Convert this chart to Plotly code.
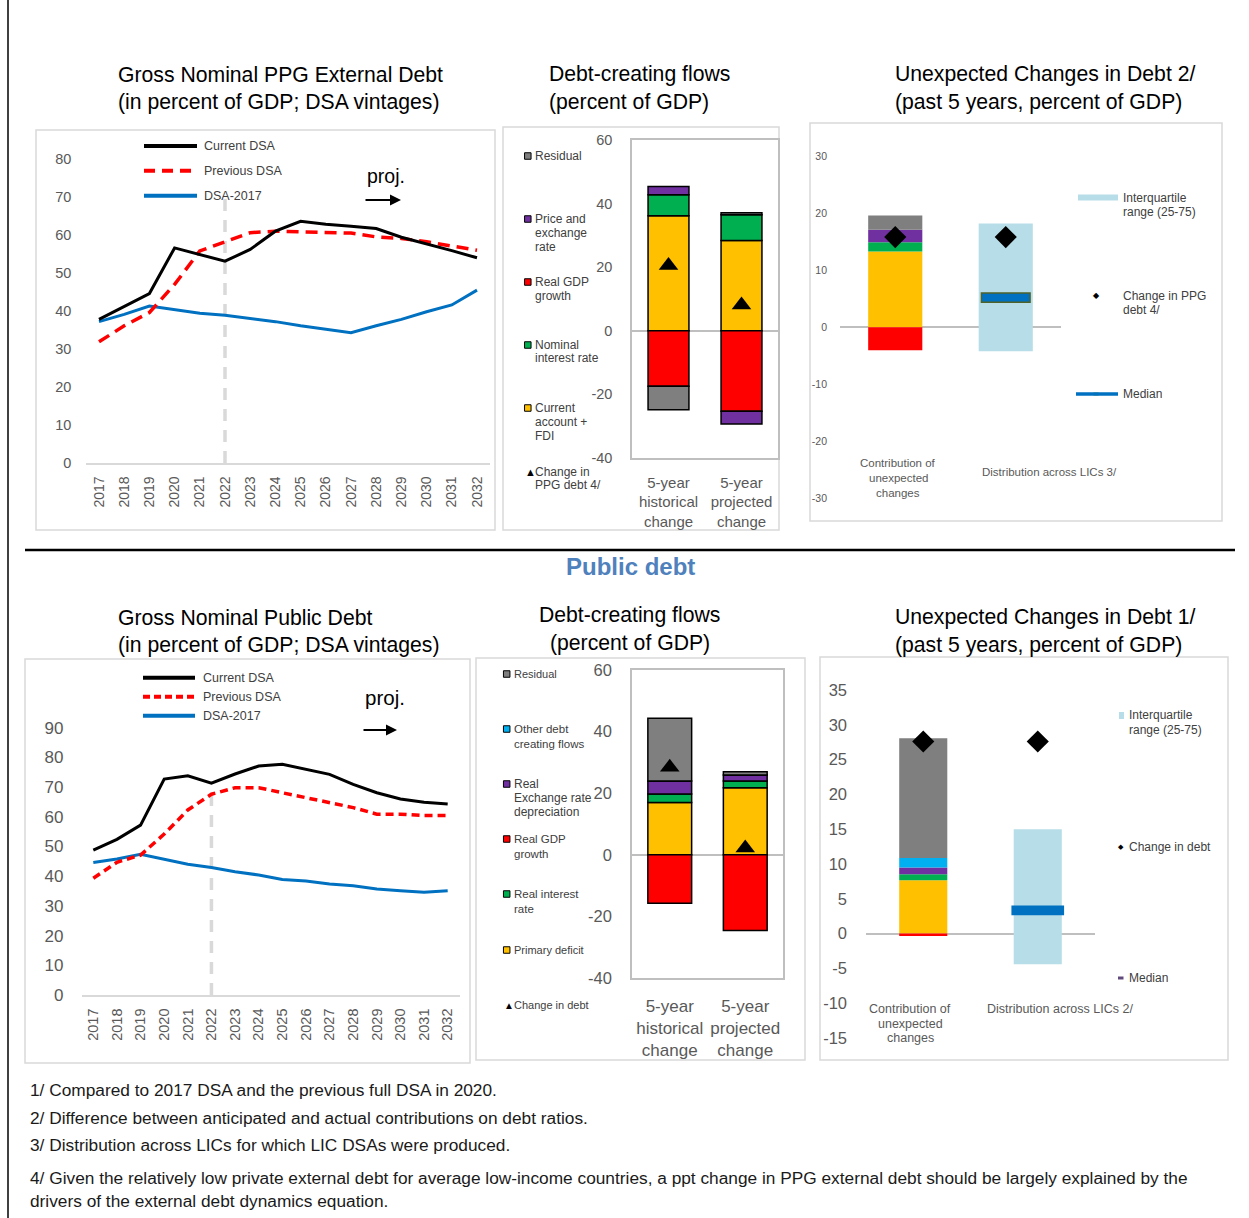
import plotly.graph_objects as go

W, H = 1249, 1218
FONT = "Liberation Sans, Arial, sans-serif"


def fx(px):
    return px / W


def fy(py):
    return 1 - py / H


# ---------------- data ----------------
years = list(range(2017, 2033))

# Gross nominal PPG external debt (% of GDP)
ext_current = [37.8, 41.3, 44.6, 56.6, 54.9, 53.1, 56.2, 61.0, 63.6, 62.8, 62.3, 61.7, 59.4, 57.7, 55.9, 54.0]
ext_previous = [31.9, 36.1, 39.6, 47.0, 55.8, 58.2, 60.6, 61.0, 60.8, 60.8, 60.5, 59.5, 59.1, 58.2, 57.1, 56.0]
ext_dsa2017 = [37.2, 39.1, 41.3, 40.4, 39.4, 38.9, 38.1, 37.2, 36.1, 35.2, 34.3, 36.1, 37.8, 39.8, 41.6, 45.5]

# Gross nominal public debt (% of GDP)
pub_current = [48.8, 52.4, 57.2, 72.7, 73.8, 71.3, 74.4, 77.1, 77.7, 76.1, 74.3, 70.9, 68.1, 66.0, 64.9, 64.3]
pub_previous = [39.3, 44.7, 47.1, 54.2, 62.3, 67.6, 69.8, 69.8, 68.1, 66.4, 64.8, 63.1, 60.9, 60.9, 60.4, 60.4]
pub_dsa2017 = [44.6, 45.8, 47.4, 45.7, 44.0, 42.9, 41.5, 40.4, 38.9, 38.4, 37.4, 36.8, 35.7, 35.1, 34.6, 35.1]

flow_labels = ["5-year<br>historical<br>change", "5-year<br>projected<br>change"]
flow_ticks = [-40, -20, 0, 20, 40, 60]
ext_unexp_ticks = [-30, -20, -10, 0, 10, 20, 30]
pub_unexp_ticks = [-15, -10, -5, 0, 5, 10, 15, 20, 25, 30, 35]

# external debt-creating flows (historical, projected)
ext_ca_fdi = [36.2, 28.4]
ext_nom_int = [6.6, 8.1]
ext_real_gdp = [-17.4, -25.3]
ext_price_exch = [2.6, -4.0]
ext_residual = [-7.4, 0.6]
ext_change = [20.5, 8.1]

# public debt-creating flows (historical, projected)
pub_primary = [17.0, 21.8]
pub_real_int = [2.7, 2.2]
pub_real_gdp = [-15.7, -24.6]
pub_rer = [4.3, 1.9]
pub_other = [0.0, 0.0]
pub_residual = [20.3, 1.1]
pub_change = [28.4, 2.2]

# unexpected changes, external debt
ext_unexp_ca = [13.3]
ext_unexp_int = [1.6]
ext_unexp_gdp = [-4.0]
ext_unexp_price = [2.2]
ext_unexp_resid = [2.5]
ext_unexp_change = [15.8, 15.8]
ext_iqr = [-4.2, 18.2]
ext_median = 5.2

# unexpected changes, public debt
pub_unexp_primary = [7.65]
pub_unexp_int = [0.86]
pub_unexp_gdp = [-0.33]
pub_unexp_rer = [1.0]
pub_unexp_other = [1.34]
pub_unexp_resid = [17.2]
pub_unexp_change = [27.6, 27.6]
pub_iqr = [-4.4, 15.0]
pub_median = 3.35

GREY = "#7F7F7F"
PURPLE = "#7030A0"
RED = "#FF0000"
GREEN = "#00B050"
YELLOW = "#FFC000"
CYAN = "#00B0F0"
IQR_BLUE = "#B7DEE8"
MED_BLUE = "#0070C0"
TICK = "#595959"
LEG = "#404040"

fig = go.Figure()


def ax(n):
    return ("x" if n == 1 else f"x{n}"), ("y" if n == 1 else f"y{n}")


# ---------------- line charts ----------------
for n, cur, prev, old, dash in [(1, ext_current, ext_previous, ext_dsa2017, "12px,7px"),
                                (4, pub_current, pub_previous, pub_dsa2017, "8px,5px")]:
    xa, ya = ax(n)
    fig.add_trace(go.Scatter(x=years, y=old, mode="lines", line=dict(color=MED_BLUE, width=3),
                             xaxis=xa, yaxis=ya))
    fig.add_trace(go.Scatter(x=years, y=prev, mode="lines", line=dict(color=RED, width=3.5, dash=dash),
                             xaxis=xa, yaxis=ya))
    fig.add_trace(go.Scatter(x=years, y=cur, mode="lines", line=dict(color="black", width=3),
                             xaxis=xa, yaxis=ya))

# ---------------- debt-creating flows ----------------
xa, ya = ax(2)
for vals, col in [(ext_ca_fdi, YELLOW), (ext_nom_int, GREEN), (ext_real_gdp, RED),
                  (ext_price_exch, PURPLE), (ext_residual, GREY)]:
    fig.add_trace(go.Bar(x=[0, 1], y=vals, width=0.56, marker=dict(color=col, line=dict(color="black", width=1.5)),
                         xaxis=xa, yaxis=ya))
fig.add_trace(go.Scatter(x=[0, 1], y=ext_change, mode="markers",
                         marker=dict(symbol="triangle-up", size=17, color="black"), xaxis=xa, yaxis=ya))

xa, ya = ax(5)
for vals, col in [(pub_primary, YELLOW), (pub_real_int, GREEN), (pub_real_gdp, RED),
                  (pub_rer, PURPLE), (pub_other, CYAN), (pub_residual, GREY)]:
    fig.add_trace(go.Bar(x=[0, 1], y=vals, width=0.58, marker=dict(color=col, line=dict(color="black", width=1.5)),
                         xaxis=xa, yaxis=ya))
fig.add_trace(go.Scatter(x=[0, 1], y=pub_change, mode="markers",
                         marker=dict(symbol="triangle-up", size=17, color="black"), xaxis=xa, yaxis=ya))

# ---------------- unexpected changes ----------------
xa, ya = ax(3)
for vals, col in [(ext_unexp_ca, YELLOW), (ext_unexp_int, GREEN), (ext_unexp_gdp, RED),
                  (ext_unexp_price, PURPLE), (ext_unexp_resid, GREY)]:
    fig.add_trace(go.Bar(x=[0], y=vals, width=0.49, marker=dict(color=col, line=dict(width=0)),
                         xaxis=xa, yaxis=ya))
fig.add_trace(go.Bar(x=[1], y=[ext_iqr[1] - ext_iqr[0]], base=[ext_iqr[0]], width=0.49,
                     marker=dict(color=IQR_BLUE, line=dict(width=0)), xaxis=xa, yaxis=ya))
fig.add_trace(go.Bar(x=[1], y=[1.6], base=[ext_median - 0.8], width=0.44,
                     marker=dict(color=MED_BLUE, line=dict(color="#4F6228", width=1.5)), xaxis=xa, yaxis=ya))
fig.add_trace(go.Scatter(x=[0, 1], y=ext_unexp_change, mode="markers",
                         marker=dict(symbol="diamond", size=17, color="black"), xaxis=xa, yaxis=ya))

xa, ya = ax(6)
for vals, col in [(pub_unexp_primary, YELLOW), (pub_unexp_int, GREEN), (pub_unexp_gdp, RED),
                  (pub_unexp_rer, PURPLE), (pub_unexp_other, CYAN), (pub_unexp_resid, GREY)]:
    fig.add_trace(go.Bar(x=[0], y=vals, width=0.42, marker=dict(color=col, line=dict(width=0)),
                         xaxis=xa, yaxis=ya))
fig.add_trace(go.Bar(x=[1], y=[pub_iqr[1] - pub_iqr[0]], base=[pub_iqr[0]], width=0.42,
                     marker=dict(color=IQR_BLUE, line=dict(width=0)), xaxis=xa, yaxis=ya))
fig.add_trace(go.Bar(x=[1], y=[1.4], base=[pub_median - 0.7], width=0.46,
                     marker=dict(color=MED_BLUE, line=dict(width=0)), xaxis=xa, yaxis=ya))
fig.add_trace(go.Scatter(x=[0, 1], y=pub_unexp_change, mode="markers",
                         marker=dict(symbol="diamond", size=17, color="black"), xaxis=xa, yaxis=ya))

# ---------------- axes ----------------
axes = {}


def set_axes(n, xdom, ydom, xaxis, yaxis):
    xk = "xaxis" if n == 1 else f"xaxis{n}"
    yk = "yaxis" if n == 1 else f"yaxis{n}"
    xa, ya = ax(n)
    base = dict(showgrid=False, zeroline=False, ticks="", tickfont=dict(family=FONT, color=TICK),
                fixedrange=True, automargin=False)
    axes[xk] = {**base, "domain": [fx(xdom[0]), fx(xdom[1])], "anchor": ya, **xaxis}
    axes[yk] = {**base, "domain": [fy(ydom[0]), fy(ydom[1])], "anchor": xa, **yaxis}


def plain(ticks):
    # hyphen-minus labels like the source
    return dict(tickvals=ticks, ticktext=[str(t) for t in ticks])


line_x = dict(range=[2016.5, 2032.5], tickvals=years, tickangle=-90, showline=True,
              linecolor="#D9D9D9", linewidth=1.5, ticklabelstandoff=6)
set_axes(1, (86.4, 489.6), (463, 159),
         {**line_x, "tickfont": dict(family=FONT, color=TICK, size=14)},
         dict(range=[0, 80], dtick=10, tickfont=dict(family=FONT, color=TICK, size=14.5), ticklabelstandoff=14))
set_axes(4, (81.5, 459.5), (995, 727.7),
         {**line_x, "tickfont": dict(family=FONT, color=TICK, size=14.5)},
         dict(range=[0, 90], dtick=10, tickfont=dict(family=FONT, color=TICK, size=17), ticklabelstandoff=17))

box = dict(showline=True, mirror=True, linecolor="#BFBFBF", linewidth=1.5)
set_axes(2, (632, 778), (458, 140),
         {**box, "range": [-0.5, 1.5], "tickvals": [0, 1], "ticktext": flow_labels,
          "tickfont": dict(family=FONT, color=TICK, size=15), "ticklabelstandoff": 10},
         {**box, **plain(flow_ticks), "range": [-40, 60], "zeroline": True, "zerolinecolor": "#BFBFBF",
          "zerolinewidth": 1.5, "tickfont": dict(family=FONT, color=TICK, size=14.5), "ticklabelstandoff": 15})
set_axes(5, (632, 783), (978, 670),
         {**box, "range": [-0.5, 1.5], "tickvals": [0, 1], "ticktext": flow_labels,
          "tickfont": dict(family=FONT, color=TICK, size=17), "ticklabelstandoff": 12},
         {**box, **plain(flow_ticks), "range": [-40, 60], "zeroline": True, "zerolinecolor": "#BFBFBF",
          "zerolinewidth": 1.5, "tickfont": dict(family=FONT, color=TICK, size=16.5), "ticklabelstandoff": 15})

set_axes(3, (840, 1061), (498.7, 156),
         dict(range=[-0.5, 1.5], showticklabels=False),
         dict(**plain(ext_unexp_ticks), range=[-30, 30], zeroline=True, zerolinecolor="#BFBFBF", zerolinewidth=1.5,
              tickfont=dict(family=FONT, color=TICK, size=10.5), ticklabelstandoff=12))
set_axes(6, (866, 1095), (1038, 690),
         dict(range=[-0.5, 1.5], showticklabels=False),
         dict(**plain(pub_unexp_ticks), range=[-15, 35], zeroline=True, zerolinecolor="#BFBFBF", zerolinewidth=1.5,
              tickfont=dict(family=FONT, color=TICK, size=16.5), ticklabelstandoff=18))

# ---------------- shapes and text ----------------
shapes = []
ann = []


def rect(x0, y0, x1, y1, fill=None, line="#D9D9D9", lw=1.5):
    shapes.append(dict(type="rect", xref="paper", yref="paper", x0=fx(x0), x1=fx(x1), y0=fy(y1), y1=fy(y0),
                       fillcolor=fill if fill else "rgba(0,0,0,0)", line=dict(color=line, width=lw), layer="below"))


def hline(x0, x1, y, color, width, dash="solid"):
    shapes.append(dict(type="line", xref="paper", yref="paper", x0=fx(x0), x1=fx(x1), y0=fy(y), y1=fy(y),
                       line=dict(color=color, width=width, dash=dash)))


def square(cx, cy, color, s=6.5):
    shapes.append(dict(type="rect", xref="paper", yref="paper", x0=fx(cx - s / 2), x1=fx(cx + s / 2),
                       y0=fy(cy + s / 2), y1=fy(cy - s / 2), fillcolor=color, line=dict(color="black", width=1)))


def txt(x, y, s, size, color=LEG, anchor="left", bold=False):
    if bold:
        s = f"<b>{s}</b>"
    ann.append(dict(x=fx(x), y=fy(y), xref="paper", yref="paper", text=s, showarrow=False,
                    xanchor=anchor, yanchor="middle", font=dict(family=FONT, size=size, color=color)))


def arrow(x0, x1, y):
    ann.append(dict(x=fx(x1), y=fy(y), ax=-(x1 - x0), ay=0, xref="paper", yref="paper",
                    text="", showarrow=True, arrowhead=2, arrowsize=1.1, arrowwidth=2,
                    arrowcolor="black"))


# panel frames
rect(36, 130, 495, 530)
rect(503, 127, 779, 530)
rect(810, 123, 1222, 521)
rect(25, 659, 470, 1063)
rect(476, 658, 805, 1060)
rect(820, 657, 1228, 1060)

# page rules
shapes.append(dict(type="line", xref="paper", yref="paper", x0=fx(8), x1=fx(8), y0=0, y1=1,
                   line=dict(color="black", width=1.5)))
hline(25, 1235, 550, "black", 2.5)

# projection markers
for xa, ya in [("x", "y"), ("x4", "y4")]:
    shapes.append(dict(type="line", xref=xa, yref=ya, x0=2022, x1=2022, y0=0, y1=70,
                       line=dict(color="#D9D9D9", width=3.5, dash="12px,9px"), layer="below"))

# titles
for x, y, s in [(116, 74, "Gross Nominal PPG External Debt"), (116, 102, "(in percent of GDP; DSA vintages)"),
                (547, 74, "Debt-creating flows"), (547, 102, "(percent of GDP)"),
                (893, 74, "Unexpected Changes in Debt 2/"), (893, 102, "(past 5 years, percent of GDP)"),
                (116, 617, "Gross Nominal Public Debt"), (116, 645, "(in percent of GDP; DSA vintages)"),
                (893, 617, "Unexpected Changes in Debt 1/"), (893, 645, "(past 5 years, percent of GDP)")]:
    txt(x, y, s, 21.2, "black")
txt(629.5, 615, "Debt-creating flows", 21.2, "black", anchor="center")
txt(629.5, 643, "(percent of GDP)", 21.2, "black", anchor="center")
txt(630, 567, "Public debt", 24, "#4F81BD", anchor="center", bold=True)

# line chart legends
for (x0, x1, tx), ys, dash in [((144, 197, 202), (146, 170.7, 195.7), "11px,7px"),
                               ((143, 195, 201), (677.7, 696.7, 715.7), "7px,4px")]:
    hline(x0, x1, ys[0], "black", 4)
    hline(x0, x1, ys[1], RED, 4, dash)
    hline(x0, x1, ys[2], MED_BLUE, 4)
    txt(tx, ys[0], "Current DSA", 12.5)
    txt(tx, ys[1], "Previous DSA", 12.5)
    txt(tx, ys[2], "DSA-2017", 12.5)
txt(365, 176, "proj.", 19.5, "black")
arrow(364, 401, 200)
txt(363, 697, "proj.", 20.5, "black")
arrow(362, 397, 730)

# external flows legend
for col, lines in [(GREY, [(156, "Residual")]),
                   (PURPLE, [(219, "Price and"), (233, "exchange"), (247, "rate")]),
                   (RED, [(282, "Real GDP"), (296, "growth")]),
                   (GREEN, [(345, "Nominal"), (358, "interest rate")]),
                   (YELLOW, [(408, "Current"), (422, "account +"), (436, "FDI")])]:
    square(527.8, lines[0][0], col)
    for y, s in lines:
        txt(532.5, y, s, 12)
txt(523, 472, "▲", 11, "black")
txt(532.5, 472, "Change in", 12)
txt(532.5, 485, "PPG debt 4/", 12)

# public flows legend
for col, lines in [(GREY, [(674, "Residual", 11)]),
                   (CYAN, [(729, "Other debt", 11.5), (744, "creating flows", 11.5)]),
                   (PURPLE, [(784, "Real", 12), (798, "Exchange rate", 12), (812, "depreciation", 12)]),
                   (RED, [(839, "Real GDP", 11.5), (854, "growth", 11.5)]),
                   (GREEN, [(894, "Real interest", 11.5), (909, "rate", 11.5)]),
                   (YELLOW, [(950, "Primary deficit", 11)])]:
    square(506.7, lines[0][0], col)
    for y, s, sz in lines:
        txt(511.5, y, s, sz)
txt(502, 1005, "▲", 10, "black")
txt(511.5, 1005, "Change in debt", 11)

# unexpected changes legend (external)
rect(1078, 194.5, 1118, 200.5, fill=IQR_BLUE, line=IQR_BLUE, lw=0)
txt(1120.5, 198, "Interquartile", 12)
txt(1120.5, 212, "range (25-75)", 12)
txt(1096, 295, "◆", 8, "black", anchor="center")
txt(1120.5, 296, "Change in PPG", 12)
txt(1120.5, 310, "debt 4/", 12)
hline(1076, 1118, 394, MED_BLUE, 3.5)
rect(1093.5, 392.5, 1098.5, 395.5, fill="#76923C", line="#76923C", lw=0)
txt(1120.5, 394, "Median", 12)
for y, s in [(463, "Contribution of"), (478, "unexpected"), (493, "changes")]:
    txt(898, y, s, 11.5, TICK, anchor="center")
txt(980, 472, "Distribution across LICs 3/", 11.5, TICK)

# unexpected changes legend (public)
rect(1119, 712, 1124, 719, fill=IQR_BLUE, line=IQR_BLUE, lw=0)
txt(1126.5, 715, "Interquartile", 12)
txt(1126.5, 730, "range (25-75)", 12)
txt(1120.5, 846, "◆", 7, "black", anchor="center")
txt(1126.5, 847, "Change in debt", 12)
hline(1118, 1123.5, 978, "#604A7B", 3)
txt(1126.5, 978, "Median", 12)
for y, s in [(1009, "Contribution of"), (1024, "unexpected"), (1038, "changes")]:
    txt(910, y, s, 12.5, TICK, anchor="center")
txt(985, 1009, "Distribution across LICs 2/", 12.5, TICK)

# footnotes
for y, s in [(1090, "1/ Compared to 2017 DSA and the previous full DSA in 2020."),
             (1118, "2/ Difference between anticipated and actual contributions on debt ratios."),
             (1145, "3/ Distribution across LICs for which LIC DSAs were produced."),
             (1178, "4/ Given the relatively low private external debt for average low-income countries, "
                    "a ppt change in PPG external debt should be largely explained by the"),
             (1201, "drivers of the external debt dynamics equation.")]:
    txt(28, y, s, 17.3, "#1A1A1A")

fig.update_layout(
    width=W, height=H, margin=dict(l=0, r=0, t=0, b=0, pad=0, autoexpand=False),
    paper_bgcolor="white", plot_bgcolor="rgba(0,0,0,0)",
    barmode="relative", showlegend=False,
    font=dict(family=FONT),
    shapes=shapes, annotations=ann,
    **axes,
)

# no page margin, so the 1249x1218 figure sits flush in the window
fig.write_html("out.html", config={"displayModeBar": False},
               post_script="document.body.style.margin='0';")
